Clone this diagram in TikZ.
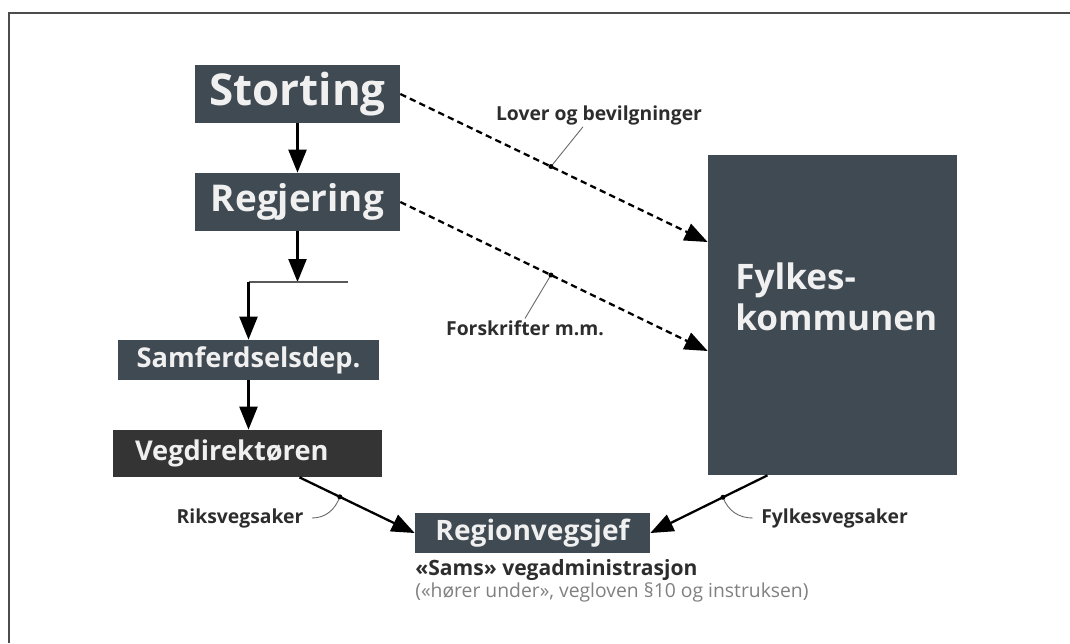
\documentclass[tikz,border=0pt]{standalone}
\usepackage{fontspec}
\setmainfont{Open Sans}
\usetikzlibrary{arrows.meta, positioning, calc}
\definecolor{boxgray}{RGB}{64,74,82}
\definecolor{boxdark}{RGB}{52,52,52}
\definecolor{labelgray}{RGB}{45,45,45}
\tikzset{
  orgbox/.style={fill=boxgray, text=white!94!black, inner sep=0pt, align=center},
  flow/.style={line width=1.3pt, -{Triangle[length=0.46cm, width=0.36cm]}},
  law/.style={flow, dash pattern=on 3.6pt off 2.4pt},
  leader/.style={gray!80!black, line width=0.5pt},
  tag/.style={font=\bfseries\fontsize{11}{13}\selectfont, text=labelgray, inner sep=1pt},
}

\begin{document}
\begin{tikzpicture}[x=0.02cm, y=-0.02cm]
        \useasboundingbox (0,0) rectangle (1070,643);
        \draw[gray!60!black, line width=1.4pt] (1070,13) -- (9,13) -- (9,643);

        \node[orgbox, minimum width=4.1cm, minimum height=1.16cm, font=\bfseries\fontsize{25}{28}\selectfont] (storting) at (297.5,94) {Storting};
        \node[orgbox, minimum width=4.1cm, minimum height=1.16cm, font=\bfseries\fontsize{21}{24}\selectfont] (regjering) at (297.5,202) {Regjering};
        \node[orgbox, minimum width=5.22cm, minimum height=0.8cm, font=\bfseries\fontsize{15.5}{18}\selectfont] (samf) at (248.5,360) {Samferdselsdep.};
        \node[orgbox, fill=boxdark, text width=4.5cm, align=left, inner xsep=0.44cm, minimum height=0.94cm, font=\bfseries\fontsize{15.5}{18}\selectfont] (vegdir) at (247.5,453.5) {Vegdirektøren};
        \node[orgbox, minimum width=4.98cm, minimum height=6.4cm] (fylkes) at (832.5,315) {};
        \node[anchor=west, align=left, text=white!94!black, inner sep=0pt, font=\bfseries\fontsize{20}{23}\selectfont] (fylkestxt) at (735,297) {Fylkes-\\kommunen};
        \node[orgbox, minimum width=4.7cm, minimum height=0.8cm, font=\bfseries\fontsize{16}{19}\selectfont] (region) at (532.5,533) {Regionvegsjef};
        \node[anchor=west, inner sep=0pt, text=labelgray, font=\bfseries\fontsize{12}{14}\selectfont] (sams) at (415,570) {«Sams» vegadministrasjon};
        \node[anchor=west, inner sep=0pt, text=gray, font=\fontsize{11}{13}\selectfont] (samsnote) at (415,592) {(«hører under», vegloven §10 og instruksen)};

        \coordinate (fork) at (297.5,282);
        \coordinate (forkL) at (248.5,282);
        \coordinate (forkR) at (348,282);
        \draw[flow] (storting) -- (regjering);
        \draw[flow] (regjering) -- (fork);
        \draw[gray!70!black, line width=1pt] (forkL) -- (forkR);
        \draw[flow] (forkL) -- (samf.north);
        \draw[flow] (samf.south) -- (samf.south |- vegdir.north);

        \draw[law] (storting.east) -- coordinate[pos=0.49] (lovdot) ([yshift=1.46cm]fylkes.west);
        \draw[law] (regjering.east) -- coordinate[pos=0.49] (fordot) ([yshift=-0.72cm]fylkes.west);
        \draw[flow] ([xshift=1.04cm]vegdir.south) -- coordinate[pos=0.35] (riksdot) (region.west);
        \draw[flow] ([xshift=-1.3cm]fylkes.south) -- coordinate[pos=0.38] (fylkdot) (region.east);

        \node[tag] (lovlbl) at (599,115) {Lover og bevilgninger};
        \node[tag] (forlbl) at (525,328) {Forskrifter m.m.};
        \node[tag] (rikslbl) at (240,518) {Riksvegsaker};
        \node[tag] (fylklbl) at (834.5,518) {Fylkesvegsaker};
        \draw[leader] (lovdot) -- ([xshift=-0.32cm]lovlbl.south);
        \draw[leader] (fordot) -- (forlbl.north);
        \draw[leader] (riksdot) to[out=-110, in=0] ([xshift=0.13cm]rikslbl.east);
        \draw[leader] (fylkdot) to[out=-70, in=180] ([xshift=-0.13cm]fylklbl.west);
        \foreach \d in {lovdot, fordot, riksdot, fylkdot}
            \fill (\d) circle[radius=0.05cm];
    \end{tikzpicture}
\end{document}
